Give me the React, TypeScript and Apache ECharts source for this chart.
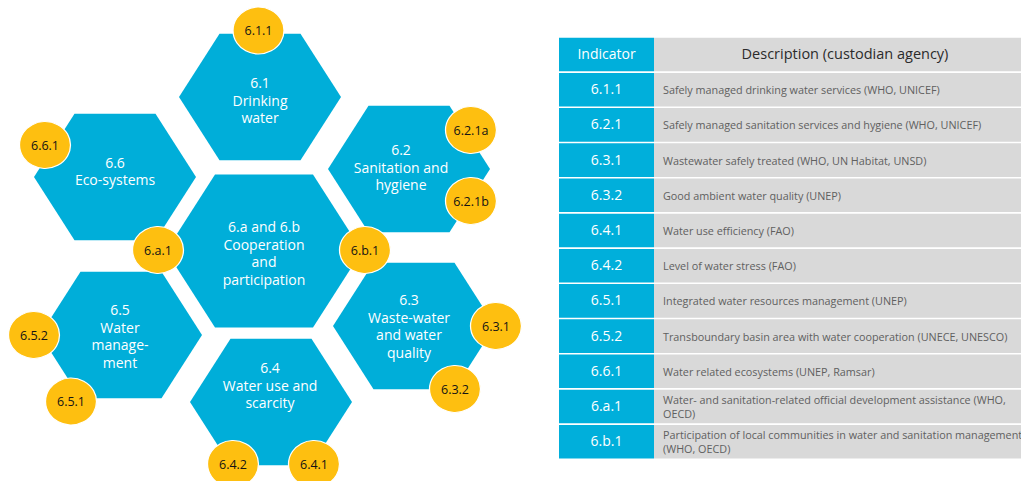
import React, { useEffect, useRef } from "react";
import * as echarts from "echarts";

// ---- content ----
const hexCodes = ["6.1", "6.2", "6.3", "6.4", "6.5", "6.6", "6.a and 6.b"];
const hexTitles = [
  "Drinking\nwater",
  "Sanitation and\nhygiene",
  "Waste-water\nand water\nquality",
  "Water use and\nscarcity",
  "Water\nmanage-\nment",
  "Eco-systems",
  "Cooperation\nand\nparticipation",
];
// layout of the honeycomb (pixel space): centre x, centre y, radius, label x, label y
const hexCx = [260, 409, 414, 271, 121, 115, 264];
const hexCy = [97, 169, 326, 402, 335, 177, 251];
const hexR = [81, 81, 81, 81, 81, 81, 98];
const hexLabelX = [260, 401, 409, 270, 120, 115, 264];
const hexLabelY = [100, 167, 326, 385, 336, 171, 253];

const badgeCodes = ["6.1.1", "6.2.1a", "6.2.1b", "6.3.1", "6.3.2", "6.4.1", "6.4.2", "6.5.1", "6.5.2", "6.6.1", "6.a.1", "6.b.1"];
const badgeX = [258.5, 471, 471, 496, 455, 314, 233, 71, 34, 45, 158, 365];
const badgeY = [30.5, 130, 201, 326, 389, 464, 464, 401.5, 335, 145, 250, 250];

const tableHeader = ["Indicator", "Description (custodian agency)"];
const indicatorCodes = ["6.1.1", "6.2.1", "6.3.1", "6.3.2", "6.4.1", "6.4.2", "6.5.1", "6.5.2", "6.6.1", "6.a.1", "6.b.1"];
const indicatorDescriptions = [
  "Safely managed drinking water services (WHO, UNICEF)",
  "Safely managed sanitation services and hygiene (WHO, UNICEF)",
  "Wastewater safely treated (WHO, UN Habitat, UNSD)",
  "Good ambient water quality (UNEP)",
  "Water use efficiency (FAO)",
  "Level of water stress (FAO)",
  "Integrated water resources management (UNEP)",
  "Transboundary basin area with water cooperation (UNECE, UNESCO)",
  "Water related ecosystems (UNEP, Ramsar)",
  "Water- and sanitation-related official development assistance (WHO,\nOECD)",
  "Participation of local communities in water and sanitation management\n(WHO, OECD)",
];

// ---- styles ----
const BLUE = "#00AED9";
const TBLUE = "#00AFDB";
const YELLOW = "#FEBF10";
const GREY = "#D9D9D9";
const FONT = "'Open Sans', 'Noto Sans', sans-serif";
const SQUASH = 0.9;

const T_LEFT = 559;
const T_SPLIT = 654;
const T_RIGHT = 1036;
const T_TOP = 37.7;
const ROW_H = 35.2;
const GAP = 1.6;

export default function App() {
  const ref = useRef<HTMLDivElement>(null);
  useEffect(() => {
    if (!ref.current) return;
    const chart = echarts.init(ref.current, null, { renderer: "svg" });

    const hexData = hexCodes.map((c, i) => [hexCx[i], hexCy[i], hexR[i], hexLabelX[i], hexLabelY[i]]);
    const badgeData = badgeCodes.map((c, i) => ({ name: c, value: [badgeX[i], badgeY[i]] }));
    const rowData = [0, ...indicatorCodes.map((_, i) => i + 1)].map((r) => [r]);

    const option: any = {
      animation: false,
      backgroundColor: "#ffffff",
      grid: { left: 0, top: 0, right: 0, bottom: 0 },
      xAxis: { type: "value", min: 0, max: 1021, show: false },
      yAxis: { type: "value", min: 0, max: 481, inverse: true, show: false },
      series: [
        {
          type: "custom",
          z: 1,
          data: hexData,
          renderItem: (params: any, api: any) => {
            const i = params.dataIndex;
            const cx = api.value(0);
            const cy = api.value(1);
            const r = api.value(2);
            const pts: number[][] = [];
            for (let k = 0; k < 6; k++) {
              const a = (Math.PI / 3) * k;
              pts.push(api.coord([cx + r * Math.cos(a), cy + r * Math.sin(a) * SQUASH]));
            }
            const t = api.coord([api.value(3), api.value(4)]);
            return {
              type: "group",
              children: [
                { type: "polygon", shape: { points: pts }, style: { fill: BLUE } },
                {
                  type: "text",
                  x: t[0],
                  y: t[1],
                  style: {
                    text: hexCodes[i] + "\n" + hexTitles[i],
                    fill: "#ffffff",
                    font: `14px ${FONT}`,
                    lineHeight: 17.6,
                    align: "center",
                    verticalAlign: "middle",
                  },
                },
              ],
            };
          },
        },
        {
          type: "scatter",
          z: 3,
          data: badgeData,
          symbol: "circle",
          symbolSize: [51, 47],
          itemStyle: { color: YELLOW, borderColor: "#ffffff", borderWidth: 1.2, opacity: 1 },
          label: {
            show: true,
            position: "inside",
            formatter: "{b}",
            color: "#141414",
            fontSize: 12.5,
            fontFamily: FONT,
          },
          emphasis: { disabled: true },
        },
        {
          type: "custom",
          z: 2,
          data: rowData,
          renderItem: (params: any, api: any) => {
            const r = api.value(0);
            const p0 = api.coord([T_LEFT, T_TOP + r * ROW_H]);
            const p1 = api.coord([T_SPLIT, T_TOP + (r + 1) * ROW_H - GAP]);
            const p2 = api.coord([T_RIGHT, T_TOP + (r + 1) * ROW_H - GAP]);
            const mid = api.coord([0, T_TOP + r * ROW_H + (ROW_H - GAP) / 2]);
            const isHeader = r === 0;
            const code = isHeader ? tableHeader[0] : indicatorCodes[r - 1];
            const desc = isHeader ? tableHeader[1] : indicatorDescriptions[r - 1];
            const children: any[] = [
              { type: "rect", shape: { x: p0[0], y: p0[1], width: p1[0] - p0[0], height: p1[1] - p0[1] }, style: { fill: TBLUE } },
              { type: "rect", shape: { x: p1[0], y: p0[1], width: p2[0] - p1[0], height: p1[1] - p0[1] }, style: { fill: GREY } },
              {
                type: "text",
                x: (p0[0] + p1[0]) / 2,
                y: mid[1] - 1,
                style: { text: code, fill: "#ffffff", font: `14px ${FONT}`, align: "center", verticalAlign: "middle" },
              },
            ];
            if (isHeader) {
              children.push({
                type: "text",
                x: (p1[0] + p2[0]) / 2,
                y: mid[1] - 1,
                style: { text: desc, fill: "#2b2b2b", font: `14.5px ${FONT}`, align: "center", verticalAlign: "middle" },
              });
            } else {
              children.push({
                type: "text",
                x: p1[0] + 9,
                y: mid[1],
                style: { text: desc, fill: "#606060", font: `10.8px ${FONT}`, lineHeight: 14, align: "left", verticalAlign: "middle" },
              });
            }
            return { type: "group", children };
          },
        },
      ],
    };
    chart.setOption(option);
    return () => chart.dispose();
  }, []);
  return <div ref={ref} style={{ position: "absolute", left: 0, top: 0, width: 1021, height: 481 }} />;
}
